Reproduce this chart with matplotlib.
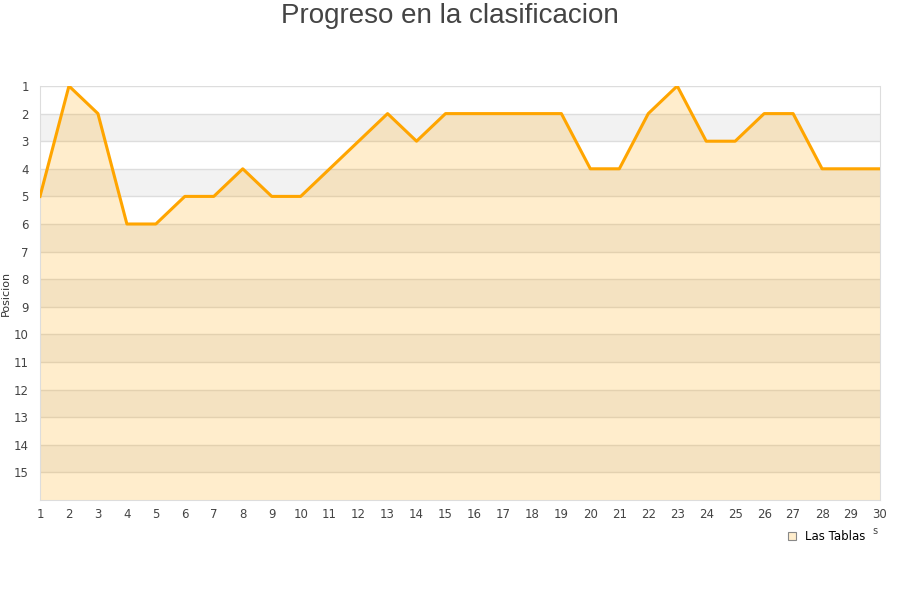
import numpy as np
import matplotlib.pyplot as plt
from matplotlib.lines import Line2D

# Jornadas y posicion
jornadas = list(range(1, 31))
posiciones = [5, 1, 2, 6, 6, 5, 5, 4, 5, 5, 4, 3, 2, 3, 2, 2, 2, 2, 2, 4,
              4, 2, 1, 3, 3, 2, 2, 4, 4, 4]
equipo = 'Las Tablas'
titulo = 'Progreso en la clasificacion'
y_ticks = list(range(1, 16))

fig = plt.figure(figsize=(9, 6), dpi=100)
ax = fig.add_axes([40 / 900, 100 / 600, 840 / 900, 414 / 600])

# bandas alternas
for y0 in range(2, 16, 2):
    ax.axhspan(y0, y0 + 1, color='#f2f2f2', zorder=0, lw=0)
for y in range(1, 16):
    ax.axhline(y, color='#dddddd', lw=1, zorder=1)

ax.fill_between(jornadas, posiciones, 16, color='#ffa500', alpha=0.2, lw=0, zorder=2)
ax.plot(jornadas, posiciones, color='#ffa500', lw=2.2, zorder=3)

ax.set_xlim(1, 30)
ax.set_ylim(16, 1)
ax.set_xticks(jornadas)
ax.set_yticks(y_ticks)
ax.tick_params(length=0, labelsize=8.5, colors='#444444', pad=8)
ax.tick_params(axis='x', pad=6)
for s in ['left', 'bottom', 'right']:
    ax.spines[s].set_color('#dddddd')
ax.spines['top'].set_visible(False)

ax.set_ylabel('Posicion', fontsize=8, color='#333333', labelpad=2)
fig.text(0.5, 1 - 16 / 600, titulo, ha='center', va='center', fontsize=20, color='#444444',
         family='Liberation Sans')
fig.text(875 / 900, 1 - 531 / 600, 's', fontsize=7, color='#444444', ha='center', va='center')

handle = Line2D([], [], marker='s', ls='', markersize=6, markerfacecolor='#ffedcc',
                markeredgecolor='#888888', markeredgewidth=0.8)
fig.legend([handle], [equipo], loc='center', bbox_to_anchor=(826 / 900, 1 - 537 / 600),
           frameon=False, fontsize=8.5, handletextpad=0.6, handlelength=1)

fig.savefig('out.png', dpi=100)
